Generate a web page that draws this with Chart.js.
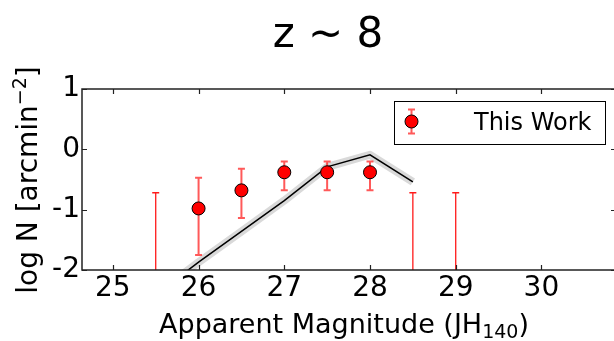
<!DOCTYPE html>
<html>
<head>
<meta charset="utf-8">
<script src="https://cdn.jsdelivr.net/npm/chart.js@4.4.0/dist/chart.umd.min.js"></script>
<style>
  html, body { margin: 0; padding: 0; background: #fff; overflow: hidden; }
  #wrap { width: 630px; height: 341px; }
</style>
</head>
<body>
<div id="wrap"><canvas id="countsChart" width="630" height="341"></canvas></div>
<script>
// Number counts at z ~ 8 (JH140 band)
const mags = [26, 26.5, 27, 27.5, 28];
const logN = [-0.98, -0.68, -0.38, -0.38, -0.38];
const errUp = [0.51, 0.36, 0.18, 0.18, 0.18];
const errDown = [0.77, 0.46, 0.30, 0.30, 0.30];

// empty bins, upper limits only
const limitMags = [25.5, 28.5, 29];
const limitLogN = [-0.72, -0.72, -0.72];

// model prediction
const modelMags = [25.5, 26, 26.5, 27, 27.5, 28, 28.5];
const modelLogN = [-2.41, -1.87, -1.36, -0.85, -0.29, -0.09, -0.54];

const xTicks = [25, 26, 27, 28, 29, 30];
const yTicks = [1, 0, -1, -2];

const FONT = "'DejaVu Sans', 'Liberation Sans', sans-serif";
const ERR_RED = 'rgba(255, 0, 0, 0.65)';

function xy(xs, ys) {
  return xs.map((x, i) => ({ x: x, y: ys[i] }));
}

// error bars + upper limits, drawn just before the markers
const errorBars = {
  id: 'errorBars',
  beforeDatasetDraw(chart, args) {
    if (args.index !== 0) return;
    const { ctx, chartArea: a, scales: { x, y } } = chart;
    ctx.save();
    ctx.beginPath();
    ctx.rect(a.left, a.top, a.right - a.left, a.bottom - a.top);
    ctx.clip();
    const cap = 3.5;

    ctx.strokeStyle = ERR_RED;
    ctx.lineWidth = 2;
    mags.forEach((m, i) => {
      const px = x.getPixelForValue(m);
      const top = y.getPixelForValue(logN[i] + errUp[i]);
      const bot = y.getPixelForValue(logN[i] - errDown[i]);
      ctx.beginPath();
      ctx.moveTo(px, top); ctx.lineTo(px, bot);
      ctx.moveTo(px - cap, top); ctx.lineTo(px + cap, top);
      ctx.moveTo(px - cap, bot); ctx.lineTo(px + cap, bot);
      ctx.stroke();
    });

    ctx.strokeStyle = '#ff1a1a';
    ctx.lineWidth = 1.3;
    limitMags.forEach((m, i) => {
      const px = x.getPixelForValue(m);
      const top = y.getPixelForValue(limitLogN[i]);
      ctx.beginPath();
      ctx.moveTo(px, top); ctx.lineTo(px, a.bottom + 2);
      ctx.moveTo(px - cap, top); ctx.lineTo(px + cap, top);
      ctx.stroke();
    });
    ctx.restore();
  }
};

// axes frame, inward ticks, titles and legend
const decorations = {
  id: 'decorations',
  afterDraw(chart) {
    const { ctx, chartArea: a, scales: { x, y } } = chart;
    ctx.save();

    ctx.strokeStyle = '#222';
    ctx.lineWidth = 1.5;
    ctx.strokeRect(a.left, a.top, a.right - a.left, a.bottom - a.top);

    ctx.lineWidth = 1.2;
    ctx.beginPath();
    xTicks.forEach(v => {
      const px = Math.round(x.getPixelForValue(v)) + 0.5;
      ctx.moveTo(px, a.bottom); ctx.lineTo(px, a.bottom - 5);
      ctx.moveTo(px, a.top); ctx.lineTo(px, a.top + 5);
    });
    yTicks.forEach(v => {
      const py = Math.round(y.getPixelForValue(v)) + 0.5;
      ctx.moveTo(a.left, py); ctx.lineTo(a.left + 5, py);
      ctx.moveTo(a.right, py); ctx.lineTo(a.right - 5, py);
    });
    ctx.stroke();

    // title
    ctx.fillStyle = '#000';
    ctx.textAlign = 'center';
    ctx.textBaseline = 'alphabetic';
    ctx.font = '42px ' + FONT;
    ctx.fillText('z ~ 8', 328, 47);

    // x axis title with subscript
    const main = 'Apparent Magnitude (JH';
    const sub = '140';
    ctx.textAlign = 'left';
    ctx.font = '27px ' + FONT;
    const wMain = ctx.measureText(main).width;
    const wClose = ctx.measureText(')').width;
    ctx.font = '19px ' + FONT;
    const wSub = ctx.measureText(sub).width;
    let cx = 344 - (wMain + wSub + wClose) / 2;
    ctx.font = '27px ' + FONT;
    ctx.fillText(main, cx, 333);
    cx += wMain;
    ctx.font = '19px ' + FONT;
    ctx.fillText(sub, cx, 338);
    cx += wSub;
    ctx.font = '27px ' + FONT;
    ctx.fillText(')', cx, 333);

    // y axis title with superscript
    ctx.save();
    ctx.translate(37, 180);
    ctx.rotate(-Math.PI / 2);
    const yMain = 'log N [arcmin';
    const sup = '\u22122';
    ctx.font = '28px ' + FONT;
    const wyMain = ctx.measureText(yMain).width;
    const wyClose = ctx.measureText(']').width;
    ctx.font = '19px ' + FONT;
    const wSup = ctx.measureText(sup).width;
    let ty = -(wyMain + wSup + wyClose) / 2;
    ctx.font = '28px ' + FONT;
    ctx.fillText(yMain, ty, 0);
    ty += wyMain;
    ctx.font = '19px ' + FONT;
    ctx.fillText(sup, ty, -11);
    ty += wSup;
    ctx.font = '28px ' + FONT;
    ctx.fillText(']', ty, 0);
    ctx.restore();

    // legend
    const lx = 394, ly = 101, lw = 211, lh = 43;
    ctx.fillStyle = '#fff';
    ctx.fillRect(lx, ly, lw, lh);
    ctx.strokeStyle = '#000';
    ctx.lineWidth = 1;
    ctx.strokeRect(lx + 0.5, ly + 0.5, lw, lh);
    const mx = 411.5, my = 121.5;
    ctx.strokeStyle = ERR_RED;
    ctx.lineWidth = 2;
    ctx.beginPath();
    ctx.moveTo(mx, my - 12); ctx.lineTo(mx, my + 12);
    ctx.moveTo(mx - 3.5, my - 12); ctx.lineTo(mx + 3.5, my - 12);
    ctx.moveTo(mx - 3.5, my + 12); ctx.lineTo(mx + 3.5, my + 12);
    ctx.stroke();
    ctx.beginPath();
    ctx.arc(mx, my, 6.5, 0, Math.PI * 2);
    ctx.fillStyle = '#ff0000';
    ctx.fill();
    ctx.strokeStyle = '#000';
    ctx.lineWidth = 1;
    ctx.stroke();
    ctx.fillStyle = '#000';
    ctx.font = '24px ' + FONT;
    ctx.fillText('This Work', 474, 129.5);

    ctx.restore();
  }
};

const tickFont = { family: FONT, size: 28 };

new Chart(document.getElementById('countsChart').getContext('2d'), {
  type: 'scatter',
  data: {
    datasets: [
      {
        label: 'This Work',
        data: xy(mags, logN),
        pointRadius: 6.5,
        pointBackgroundColor: '#ff0000',
        pointBorderColor: '#000',
        pointBorderWidth: 1
      },
      {
        label: 'model',
        data: xy(modelMags, modelLogN),
        showLine: true,
        borderColor: '#000',
        borderWidth: 1.5,
        pointRadius: 0
      },
      {
        label: 'model spread',
        data: xy(modelMags, modelLogN),
        showLine: true,
        borderColor: 'rgba(160, 160, 160, 0.4)',
        borderWidth: 8,
        borderJoinStyle: 'round',
        pointRadius: 0
      }
    ]
  },
  options: {
    responsive: false,
    animation: false,
    devicePixelRatio: 1,
    layout: { padding: { left: 0, top: 89, right: 14, bottom: 0 } },
    plugins: { legend: { display: false }, tooltip: { enabled: false } },
    scales: {
      x: {
        type: 'linear',
        min: 24.64,
        max: 30.87,
        afterBuildTicks: s => { s.ticks = xTicks.map(v => ({ value: v })); },
        afterFit: s => { s.height = 71; },
        grid: { display: false, drawTicks: false },
        border: { display: false },
        ticks: { font: tickFont, color: '#000', padding: 2, maxRotation: 0, autoSkip: false }
      },
      y: {
        type: 'linear',
        min: -2,
        max: 1,
        afterBuildTicks: s => { s.ticks = yTicks.map(v => ({ value: v })); },
        afterFit: s => { s.width = 82; },
        grid: { display: false, drawTicks: false },
        border: { display: false },
        ticks: { font: tickFont, color: '#000', padding: 2, autoSkip: false }
      }
    }
  },
  plugins: [errorBars, decorations]
});
</script>
</body>
</html>
